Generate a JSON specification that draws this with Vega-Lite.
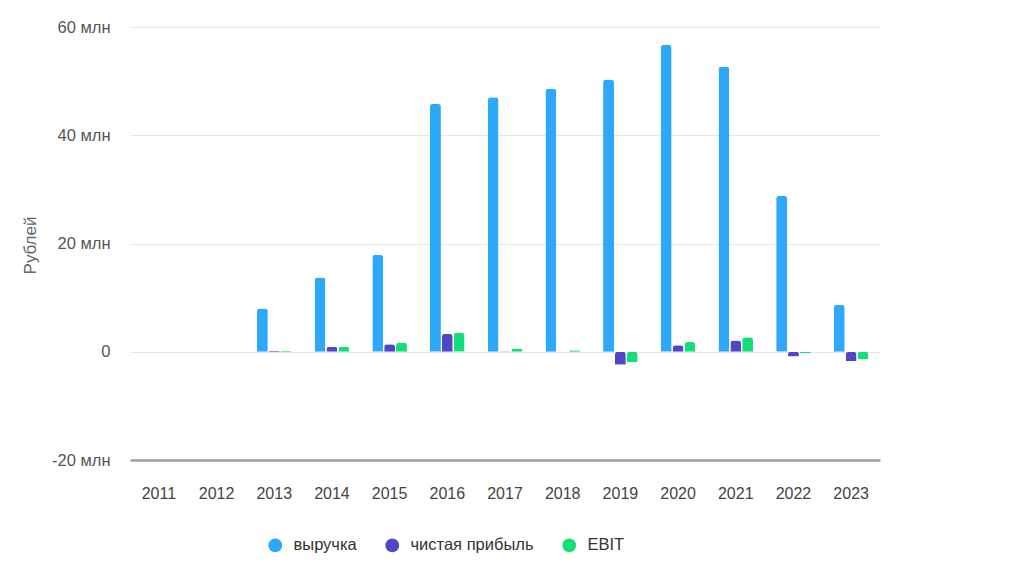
{
  "$schema": "https://vega.github.io/schema/vega-lite/v6.json",
  "autosize": "none",
  "width": 750,
  "height": 433,
  "padding": {"left": 130, "top": 27, "right": 144, "bottom": 114},
  "background": "white",
  "config": {
    "font": "Liberation Sans",
    "view": {"stroke": null}
  },
  "data": {
    "values": [
      {"year": "2013", "series": "выручка", "value": 8.0},
      {"year": "2013", "series": "чистая прибыль", "value": 0.2},
      {"year": "2013", "series": "EBIT", "value": 0.2},
      {"year": "2014", "series": "выручка", "value": 13.7},
      {"year": "2014", "series": "чистая прибыль", "value": 0.9},
      {"year": "2014", "series": "EBIT", "value": 0.9},
      {"year": "2015", "series": "выручка", "value": 17.9},
      {"year": "2015", "series": "чистая прибыль", "value": 1.4},
      {"year": "2015", "series": "EBIT", "value": 1.7},
      {"year": "2016", "series": "выручка", "value": 45.8},
      {"year": "2016", "series": "чистая прибыль", "value": 3.3},
      {"year": "2016", "series": "EBIT", "value": 3.5},
      {"year": "2017", "series": "выручка", "value": 47.0},
      {"year": "2017", "series": "чистая прибыль", "value": 0.1},
      {"year": "2017", "series": "EBIT", "value": 0.6},
      {"year": "2018", "series": "выручка", "value": 48.6},
      {"year": "2018", "series": "чистая прибыль", "value": 0.0},
      {"year": "2018", "series": "EBIT", "value": 0.3},
      {"year": "2019", "series": "выручка", "value": 50.3},
      {"year": "2019", "series": "чистая прибыль", "value": -2.4},
      {"year": "2019", "series": "EBIT", "value": -1.9},
      {"year": "2020", "series": "выручка", "value": 56.7},
      {"year": "2020", "series": "чистая прибыль", "value": 1.2},
      {"year": "2020", "series": "EBIT", "value": 1.8},
      {"year": "2021", "series": "выручка", "value": 52.7},
      {"year": "2021", "series": "чистая прибыль", "value": 2.1},
      {"year": "2021", "series": "EBIT", "value": 2.7},
      {"year": "2022", "series": "выручка", "value": 28.8},
      {"year": "2022", "series": "чистая прибыль", "value": -0.9},
      {"year": "2022", "series": "EBIT", "value": -0.3},
      {"year": "2023", "series": "выручка", "value": 8.7},
      {"year": "2023", "series": "чистая прибыль", "value": -1.7},
      {"year": "2023", "series": "EBIT", "value": -1.4}
    ]
  },
  "mark": {"type": "bar", "cornerRadiusEnd": 3},
  "encoding": {
    "x": {
      "field": "year",
      "type": "nominal",
      "scale": {
        "domain": ["2011","2012","2013","2014","2015","2016","2017","2018","2019","2020","2021","2022","2023"],
        "paddingInner": 0.4,
        "paddingOuter": 0.2
      },
      "axis": {
        "title": null,
        "labelAngle": 0,
        "labelFontSize": 16,
        "labelColor": "#444444",
        "labelPadding": 25,
        "ticks": false,
        "domainColor": "#9e9e9e",
        "domainWidth": 2.5,
        "grid": false
      }
    },
    "xOffset": {
      "field": "series",
      "type": "nominal",
      "sort": ["выручка", "чистая прибыль", "EBIT"],
      "scale": {"paddingInner": 0.08}
    },
    "y": {
      "field": "value",
      "type": "quantitative",
      "scale": {"domain": [-20, 60], "nice": false},
      "axis": {
        "title": "Рублей",
        "titleFontSize": 17,
        "titleFontWeight": "normal",
        "titleColor": "#666666",
        "titleAngle": -90,
        "titleX": -100,
        "titleY": 218,
        "titleAlign": "center",
        "titleBaseline": "middle",
        "values": [-20, 0, 20, 40, 60],
        "labelExpr": "datum.value == 0 ? '0' : datum.value + ' млн'",
        "labelFontSize": 16.5,
        "labelColor": "#555555",
        "labelPadding": 20,
        "ticks": false,
        "domain": false,
        "gridColor": "#e6e6e6",
        "gridWidth": 1
      }
    },
    "color": {
      "field": "series",
      "type": "nominal",
      "scale": {
        "domain": ["выручка", "чистая прибыль", "EBIT"],
        "range": ["#2ea8fa", "#5146c6", "#10df7a"]
      },
      "legend": {
        "title": null,
        "orient": "none",
        "direction": "horizontal",
        "legendX": 137,
        "legendY": 510,
        "symbolType": "circle",
        "symbolSize": 190,
        "symbolStrokeWidth": 0,
        "labelFontSize": 16.5,
        "labelColor": "#333333",
        "labelOffset": 10,
        "columnPadding": 27
      }
    }
  }
}
